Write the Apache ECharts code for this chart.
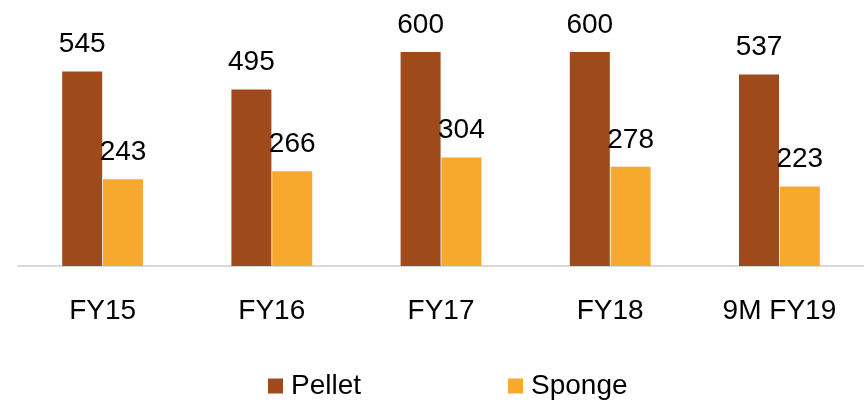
<!DOCTYPE html>
<html>
<head>
<meta charset="utf-8">
<script src="https://cdn.jsdelivr.net/npm/echarts@6/dist/echarts.min.js"></script>
<style>
  html, body { margin: 0; padding: 0; background: #fff; }
  #chart_wrap { width: 864px; height: 400px; }
</style>
</head>
<body>
<div id="chart_wrap"></div>
<script>
var categories = ['FY15', 'FY16', 'FY17', 'FY18', '9M FY19'];
var pelletValues = [545, 495, 600, 600, 537];
var spongeValues = [243, 266, 304, 278, 223];

var chart = echarts.init(document.getElementById('chart_wrap'));
var font = '"Liberation Sans", Arial, sans-serif';

var barLabel = {
    show: true,
    position: 'top',
    distance: 13,
    color: '#000',
    fontSize: 28,
    fontFamily: font
};

var option = {
    backgroundColor: '#fff',
    animation: false,
    grid: { left: 18, right: 0, top: 52, bottom: 134 },
    legend: {
        left: 263,
        top: 367,
        itemWidth: 15,
        itemHeight: 15,
        itemGap: 147,
        icon: 'rect',
        textStyle: { color: '#000', fontSize: 28, fontFamily: font, padding: [0, 0, 0, 3] }
    },
    xAxis: {
        type: 'category',
        data: categories,
        axisLine: { lineStyle: { color: '#d9d9d9', width: 2 } },
        axisTick: { show: false },
        axisLabel: { color: '#000', fontSize: 28, fontFamily: font, margin: 31 }
    },
    yAxis: {
        type: 'value',
        min: 0,
        max: 600,
        show: false,
        splitLine: { show: false }
    },
    series: [
        {
            name: 'Pellet',
            type: 'bar',
            data: pelletValues,
            barWidth: 40,
            barGap: '2%',
            itemStyle: { color: '#9e4a1a' },
            label: barLabel
        },
        {
            name: 'Sponge',
            type: 'bar',
            data: spongeValues,
            barWidth: 40,
            itemStyle: { color: '#f6a92c' },
            label: barLabel
        }
    ]
};

chart.setOption(option, true);
</script>
</body>
</html>
